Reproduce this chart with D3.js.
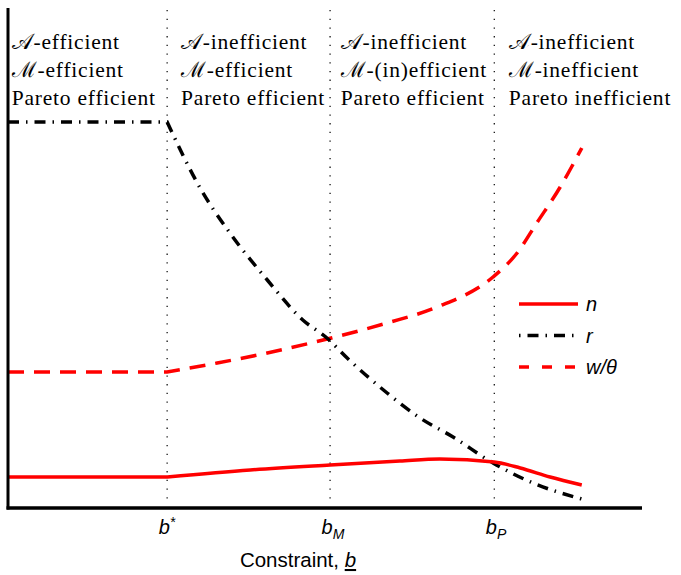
<!DOCTYPE html>
<html><head><meta charset="utf-8">
<script src="https://cdn.jsdelivr.net/npm/d3@7"></script>
<style>
body{margin:0;background:#fff;}
svg{display:block;}
</style></head>
<body>
<script>
// ---- data ----
const thresholds = [25.1, 50.8, 76.7];           // b*, b_M, b_P
const thresholdLabels = [["b","*","sup"],["b","M","sub"],["b","P","sub"]];
const regionX = [0.6, 27.3, 52.5, 79.0];
const regionLines = [
  ["𝒜-efficient","ℳ-efficient","Pareto efficient"],
  ["𝒜-inefficient","ℳ-efficient","Pareto efficient"],
  ["𝒜-inefficient","ℳ-(in)efficient","Pareto efficient"],
  ["𝒜-inefficient","ℳ-inefficient","Pareto inefficient"]
];
const rX = [0, 25.1, 30.3, 35, 40.9, 46.5, 50.3, 53.5, 59.8, 65, 70.2, 76.5, 82.8, 90.5];
const rY = [77.2, 77.2, 64, 55, 45.6, 37.6, 34, 30, 23, 18, 14.2, 9, 5, 1.8];
const wX = [0, 25.1, 33, 40.9, 49.7, 59.8, 67.7, 76.5, 80.3, 83.4, 87.1, 90.5];
const wY = [27.2, 27.2, 29, 31, 33.6, 37, 40.2, 46.2, 51, 57, 64.2, 72];
const nX = [0, 25.1, 38.2, 50.8, 61.8, 68.1, 76.7, 80.8, 85.5, 90.5];
const nY = [6.2, 6.2, 7.6, 8.6, 9.4, 9.8, 9.2, 8, 6.2, 4.6];
const seriesNames = ["n", "r", "w/θ"];
const xLabel = "Constraint, ";

// ---- layout ----
const W = 681, H = 575;
const SERIF = "Liberation Serif";
const SANS = "Liberation Sans";
const x = d3.scaleLinear().domain([0, 100]).range([8, 642]);
const y = d3.scaleLinear().domain([0, 100]).range([508, 8]);

const svg = d3.select("body").append("svg").attr("width", W).attr("height", H);

// dotted verticals
svg.selectAll("line.vd").data(thresholds).join("line")
  .attr("x1", d => x(d)).attr("x2", d => x(d))
  .attr("y1", 10).attr("y2", 500)
  .attr("stroke", "#000").attr("stroke-width", 1.2)
  .attr("stroke-dasharray", "1.3,7.4");

// region text: size + spacing so that "Pareto efficient" spans ~144px as in the reference
const FS = 21.5;
const probe = svg.append("text").attr("font-family", SERIF).attr("font-size", FS).text("Pareto efficient");
const pw = probe.node().getComputedTextLength();
probe.remove();
const ls = Math.max(0, (144 - pw) / 16);
regionX.forEach((rx, i) => {
  const t = svg.append("text").attr("font-family", SERIF).attr("font-size", FS)
    .attr("letter-spacing", ls).attr("fill", "#000");
  regionLines[i].forEach((s, j) => {
    t.append("tspan").attr("font-family", SERIF).attr("x", x(rx)).attr("y", 49 + j * 28).text(s);
  });
});

// flat segment up to b*, then a smooth curve
const path = (xs, ys) => {
  const flat = `M${x(xs[0])},${y(ys[0])}L${x(xs[1])},${y(ys[1])}`;
  const pts = xs.slice(1).map((v, i) => [x(v), y(ys[i + 1])]);
  const c = d3.line().curve(d3.curveMonotoneX)(pts);
  return flat + "L" + c.slice(1);
};

// curves
svg.append("path").attr("d", path(wX, wY)).attr("fill", "none")
  .attr("stroke", "#ff0000").attr("stroke-width", 3.5).attr("stroke-dasharray", "16,10");
svg.append("path").attr("d", path(rX, rY)).attr("fill", "none")
  .attr("stroke", "#000").attr("stroke-width", 3.5).attr("stroke-dasharray", "11,7,1.5,7");
svg.append("path").attr("d", path(nX, nY)).attr("fill", "none")
  .attr("stroke", "#ff0000").attr("stroke-width", 3.5);

// axes
svg.append("line").attr("x1", 8).attr("x2", 8).attr("y1", 8).attr("y2", 509.5)
  .attr("stroke", "#000").attr("stroke-width", 3);
svg.append("line").attr("x1", 6.5).attr("x2", 642).attr("y1", 508).attr("y2", 508)
  .attr("stroke", "#000").attr("stroke-width", 3.5);

// tick labels
thresholds.forEach((t, i) => {
  const [base, s, kind] = thresholdLabels[i];
  const tx = svg.append("text").attr("font-family", SANS).attr("x", x(t) - 8.5).attr("y", 534)
    .attr("font-size", 20).attr("font-style", "italic");
  tx.append("tspan").text(base);
  tx.append("tspan").attr("dy", kind === "sup" ? -7 : 5).attr("font-size", 14).text(s);
});

// x label
const xl = svg.append("text").attr("font-family", SANS).attr("x", 298).attr("y", 567)
  .attr("text-anchor", "middle").attr("font-size", 20.5);
xl.append("tspan").text(xLabel);
xl.append("tspan").attr("font-style", "italic").attr("text-decoration", "underline").text("b");

// legend
const lg = svg.append("g");
const legendStyles = [
  {stroke: "#ff0000", dash: null},
  {stroke: "#000", dash: "1.5,7,11,7"},
  {stroke: "#ff0000", dash: "10,13"}
];
seriesNames.forEach((nm, i) => {
  const ly = 304 + i * 31.5;
  lg.append("line").attr("x1", 519).attr("x2", 578).attr("y1", ly).attr("y2", ly)
    .attr("stroke", legendStyles[i].stroke).attr("stroke-width", 3.5)
    .attr("stroke-dasharray", legendStyles[i].dash);
  lg.append("text").attr("font-family", SANS).attr("x", 586).attr("y", ly + 7)
    .attr("font-size", 20).attr("font-style", "italic").text(nm);
});
</script>
</body></html>
